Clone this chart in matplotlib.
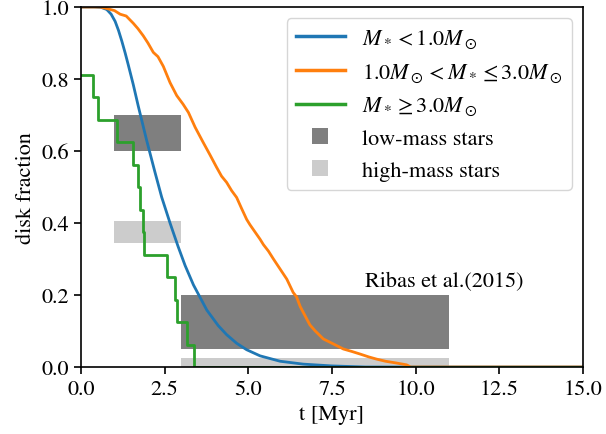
import matplotlib
matplotlib.use("Agg")
import matplotlib.pyplot as plt
from matplotlib.lines import Line2D

plt.rcParams['font.family'] = ['STIXGeneral', 'Liberation Serif', 'DejaVu Serif']
plt.rcParams['mathtext.fontset'] = 'stix'

# Blue: M* < 1.0 Msun
t_low = [0, 0.4, 0.6, 0.77, 0.9, 1.02, 1.12, 1.22, 1.32, 1.41, 1.56, 1.71, 1.86, 1.96, 2.21,
         2.41, 2.66, 2.9, 3.11, 3.36, 3.76, 4.1, 4.35, 4.65, 4.95, 5.35, 5.95, 6.64, 7.5, 8.5, 15]
f_low = [1.0, 1.0, 0.999, 0.993, 0.98, 0.96, 0.935, 0.905, 0.872, 0.84, 0.785, 0.725, 0.668, 0.63,
         0.541, 0.472, 0.4, 0.335, 0.282, 0.228, 0.158, 0.115, 0.09, 0.066, 0.048, 0.031, 0.016,
         0.008, 0.003, 0.0, 0.0]

# Orange: 1.0 Msun < M* <= 3.0 Msun
t_mid = [0, 0.57, 0.8, 1.0, 1.17, 1.35, 1.56, 1.7, 1.86, 2.0, 2.16, 2.3, 2.46, 2.66, 2.86,
         3.05, 3.21, 3.41, 3.65, 3.85, 4.05, 4.2, 4.35, 4.5, 4.65, 4.8, 4.95, 5.05, 5.2, 5.35,
         5.45, 5.6, 5.75, 5.95, 6.15, 6.34, 6.44, 6.55, 6.64, 6.84, 7.0, 7.24, 7.5, 7.84, 8.1,
         8.34, 8.6, 8.83, 9.1, 9.43, 9.73, 9.85, 15]
f_mid = [1.0, 1.0, 0.995, 0.99, 0.98, 0.975, 0.955, 0.94, 0.92, 0.9, 0.874, 0.862, 0.835, 0.79,
         0.754, 0.73, 0.707, 0.666, 0.624, 0.59, 0.555, 0.53, 0.513, 0.49, 0.471, 0.44, 0.41,
         0.395, 0.375, 0.355, 0.34, 0.322, 0.30, 0.272, 0.244, 0.207, 0.195, 0.168, 0.152, 0.117,
         0.1, 0.078, 0.066, 0.05, 0.043, 0.036, 0.028, 0.022, 0.016, 0.011, 0.006, 0.0, 0.0]

# Green: M* >= 3.0 Msun (step function)
t_high = [0, 0.37, 0.5, 1.07, 1.56, 1.69, 1.76, 1.84, 1.88, 2.56, 2.81, 2.86, 3.18, 3.38, 15]
f_high = [0.8125, 0.75, 0.6875, 0.625, 0.5625, 0.5, 0.4375, 0.375, 0.3125, 0.25, 0.1875,
          0.125, 0.0625, 0.0, 0.0]

# Ribas et al. (2015) boxes: (t_start, t_end, f_low, f_high)
lowmass_boxes = [(1.0, 3.0, 0.6, 0.7), (3.0, 11.0, 0.05, 0.2)]
highmass_boxes = [(1.0, 3.0, 0.345, 0.405), (3.0, 11.0, 0.0, 0.025)]

fig = plt.figure(figsize=(6.06, 4.35), dpi=100)
ax = fig.add_axes([0.1337, 0.154, 0.8283, 0.8276])

ax.plot(t_low, f_low, color='#1f77b4', lw=2)
ax.plot(t_mid, f_mid, color='#ff7f0e', lw=2)
ax.step(t_high, f_high, where='post', color='#2ca02c', lw=2)

for x0, x1, y0, y1 in lowmass_boxes:
    ax.fill_between([x0, x1], y0, y1, color='k', alpha=0.5, lw=0)
for x0, x1, y0, y1 in highmass_boxes:
    ax.fill_between([x0, x1], y0, y1, color='k', alpha=0.2, lw=0)

ax.text(8.5, 0.21, 'Ribas et al.(2015)', fontsize=16, ha='left', va='bottom')

ax.set_xlim(0, 15)
ax.set_ylim(0, 1)
ax.set_xticks([0, 2.5, 5, 7.5, 10, 12.5, 15])
ax.set_xticklabels(['0.0', '2.5', '5.0', '7.5', '10.0', '12.5', '15.0'])
ax.set_yticks([0, 0.2, 0.4, 0.6, 0.8, 1.0])
ax.set_yticklabels(['0.0', '0.2', '0.4', '0.6', '0.8', '1.0'])
ax.tick_params(labelsize=16, length=5, width=1.2)
for s in ax.spines.values():
    s.set_linewidth(1.2)
ax.set_xlabel('t [Myr]', fontsize=16)
ax.set_ylabel('disk fraction', fontsize=16)

handles = [
    Line2D([], [], color='#1f77b4', lw=2.5),
    Line2D([], [], color='#ff7f0e', lw=2.5),
    Line2D([], [], color='#2ca02c', lw=2.5),
    Line2D([], [], color='k', alpha=0.5, marker='s', ls='none', ms=11, mew=0),
    Line2D([], [], color='k', alpha=0.2, marker='s', ls='none', ms=11, mew=0),
]
labels = [r'$M_*<1.0M_\odot$', r'$1.0M_\odot<M_*\leq3.0M_\odot$', r'$M_*\geq3.0M_\odot$',
          'low-mass stars', 'high-mass stars']
ax.legend(handles, labels, loc='upper right', fontsize=16, labelspacing=0.5, handlelength=2.2)

fig.savefig('out.png', dpi=100)
